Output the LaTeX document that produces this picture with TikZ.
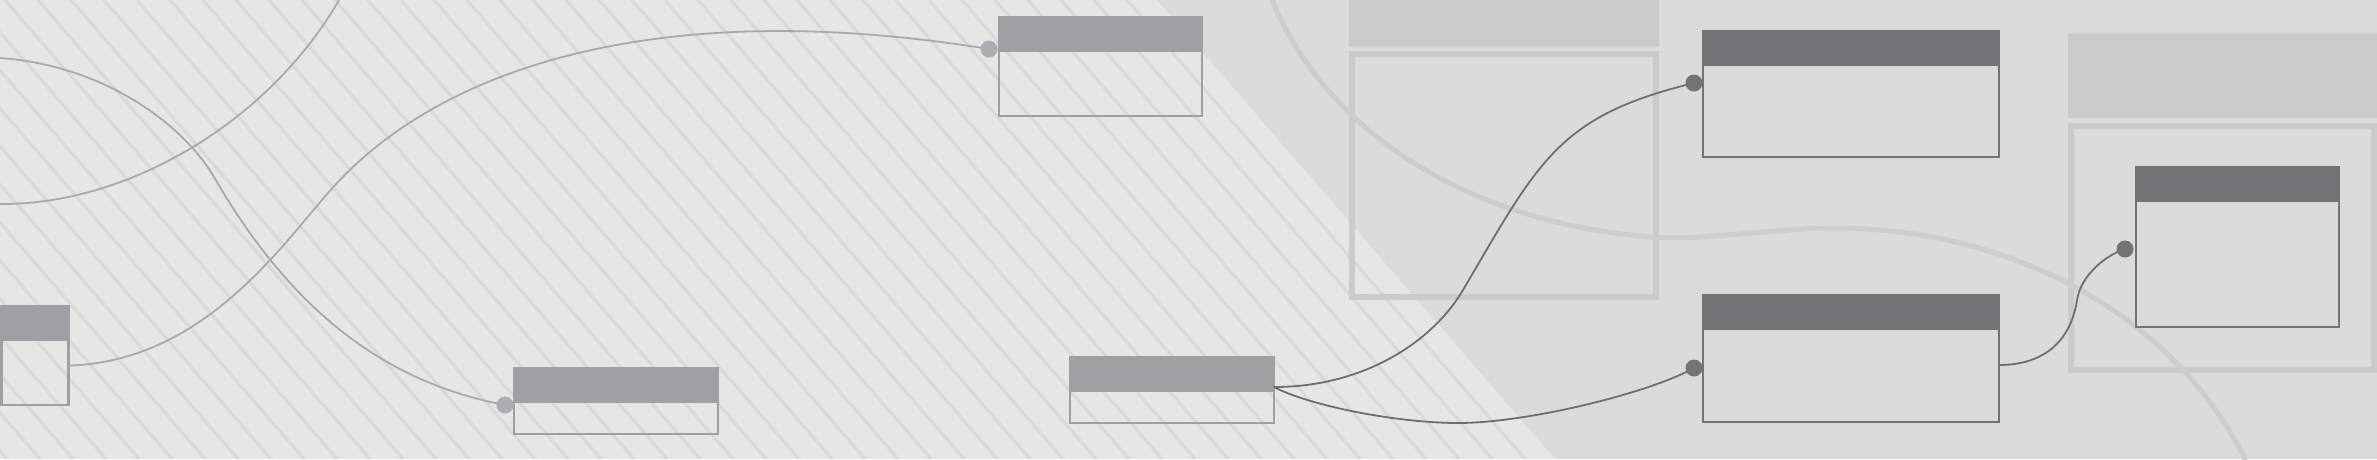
\documentclass[tikz,border=0pt]{standalone}
\definecolor{bgL}{HTML}{E6E6E4}
\definecolor{bgR}{HTML}{DBDBD9}
\definecolor{stripeC}{HTML}{DAD9D8}
\definecolor{frameC}{HTML}{CBCBC9}
\definecolor{arcC}{HTML}{CDCDCB}
\definecolor{hdrL}{HTML}{A09FA4}
\definecolor{lineL}{HTML}{A9A8AD}
\definecolor{dotLc}{HTML}{AEADB3}
\definecolor{hdrR}{HTML}{737277}
\definecolor{lineR}{HTML}{6E6D72}
\begin{document}
\begin{tikzpicture}[x=1pt,y=-1pt,
  boxL/.style 2 args={draw=hdrL,line width=2.2pt,inner sep=0pt,outer sep=0pt,anchor=north west,minimum width=#1,minimum height=#2},
  boxR/.style 2 args={draw=hdrR,line width=2.2pt,inner sep=0pt,outer sep=0pt,anchor=north west,minimum width=#1,minimum height=#2},
  connL/.style={draw=lineL,line width=1.8pt,line cap=round},
  connR/.style={draw=lineR,line width=1.8pt,line cap=round},
  dotL/.style={circle,fill=dotLc,inner sep=0pt,minimum size=17pt},
  dotR/.style={circle,fill=hdrR,inner sep=0pt,minimum size=17pt},
  stripeline/.style={draw=stripeC,line width=3pt},
  frameline/.style={draw=frameC,line width=6pt},
  arcline/.style={draw=arcC,line width=5pt,line cap=round}]
\useasboundingbox (0,0) rectangle (2377,459);
\clip (0,0) rectangle (2377,459);
% backgrounds
\fill[bgR] (0,0) rectangle (2377,459);
\begin{scope}
  \clip (0,0) -- (1157,0) -- (1555,459) -- (0,459) -- cycle;
  \fill[bgL] (-5,-5) rectangle (1600,465);
  \foreach \k in {-21,...,31} {
    \draw[stripeline] ({203+33*\k-8.7},-10) -- ({203+33*\k+406.8},469);
  }
\end{scope}
% grey group panels
\fill[frameC] (1349,-5) rectangle (1659,47);
\draw[frameline] (1352,54) rectangle (1656,297);
\fill[frameC] (2068,33) rectangle (2390,118);
\draw[frameline] (2071,126) rectangle (2374,370);
% faint arc
\draw[arcline] (1272,0) .. controls (1330,140) and (1480,225) .. (1654,237)
  .. controls (1704,240.5) and (1780,228) .. (1832,228)
  .. controls (2020,228) and (2176,320.4) .. (2245,459);
% boxes
\node[boxL={67pt}{99pt}] (A) at (1.5,306) {};
\node[boxL={204pt}{66pt}] (B) at (514,368) {};
\node[boxL={203pt}{99pt}] (C) at (999,17) {};
\node[boxL={204pt}{66pt}] (D) at (1070,357) {};
\node[boxR={296pt}{126pt}] (E) at (1703,31) {};
\node[boxR={296pt}{127pt}] (F) at (1703,295) {};
\node[boxR={203pt}{160pt}] (G) at (2136,167) {};
\foreach \b in {A,B,C,D} {\fill[hdrL] (\b.north west) rectangle ([yshift=-35pt]\b.north east);}
\foreach \b in {E,F,G} {\fill[hdrR] (\b.north west) rectangle ([yshift=-35pt]\b.north east);}
% ports
\coordinate (Aout) at ([yshift=-10pt]A.east);
\coordinate (Dout) at ([yshift=3pt]D.east);
\coordinate (Fout) at ([yshift=-6.5pt]F.east);
\coordinate (Bin) at (505,405);
\coordinate (Cin) at (989,49);
\coordinate (Ein) at (1694,83);
\coordinate (Fin) at (1694,368);
\coordinate (Gin) at (2125,249);
\coordinate (L1a) at (339,0);
\coordinate (L1b) at (0,204);
\coordinate (L2a) at (0,58);
% connectors
\draw[connL] (L1a) .. controls (270,120) and (130,205) .. (L1b);
\draw[connL] (L2a) .. controls (110,66) and (186.5,129.4) .. (214,177)
  .. controls (304,333) and (407,386) .. (Bin);
\draw[connL] (Aout) .. controls (209,362) and (289,234) .. (337,183)
  .. controls (446,66.2) and (662,-4) .. (Cin);
\draw[connR] (Dout) .. controls (1364,387) and (1432.6,341.7) .. (1463,290)
  .. controls (1539,160.7) and (1558,116) .. (Ein);
\draw[connR] (Dout) .. controls (1310,406) and (1398,423) .. (1458,423)
  .. controls (1528,423) and (1650.5,392.5) .. (Fin);
\draw[connR] (Fout) .. controls (2040,365) and (2070,345) .. (2077,300)
  .. controls (2081,275) and (2106,255) .. (Gin);
% dots
\node[dotL] (Bd) at (Bin) {};
\node[dotL] (Cd) at (Cin) {};
\node[dotR] (Ed) at (Ein) {};
\node[dotR] (Fd) at (Fin) {};
\node[dotR] (Gd) at (Gin) {};
\end{tikzpicture}
\end{document}
